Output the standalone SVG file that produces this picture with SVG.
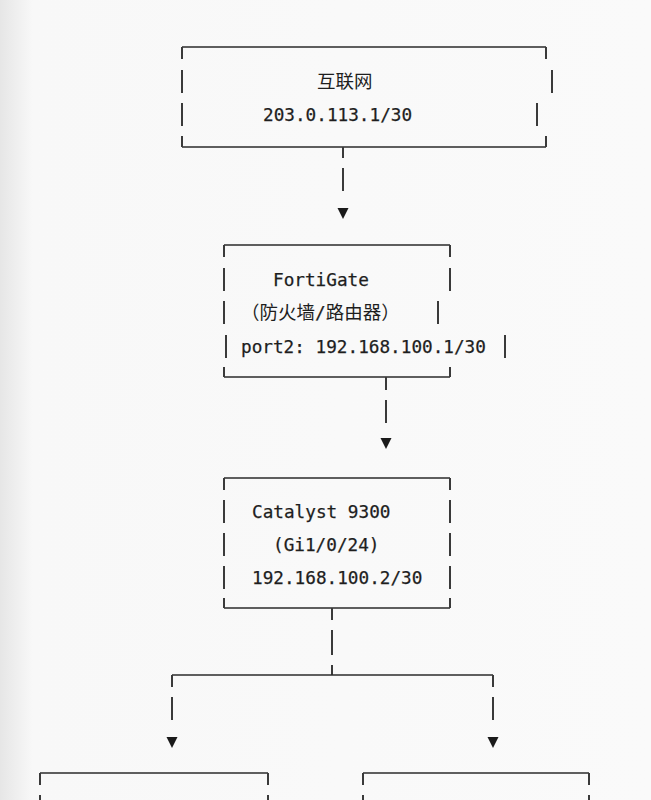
<svg xmlns="http://www.w3.org/2000/svg" width="651" height="800" viewBox="0 0 651 800">
  <defs>
    <linearGradient id="bg" x1="0" y1="0" x2="1" y2="0">
      <stop offset="0" stop-color="#e6e6e6"/>
      <stop offset="0.05" stop-color="#f8f8f8"/>
      <stop offset="1" stop-color="#fafafa"/>
    </linearGradient>
    <path id="tri" d="M-5.5,0 L5.5,0 L0,11 Z"/>
  </defs>
  <style>
    .ln { stroke: #2b2b2b; stroke-width: 1.4; fill: none; }
    .bar { stroke: #3a3a3a; stroke-width: 2; fill: none; }
    .t { font-family: "DejaVu Sans Mono", "Liberation Mono", "Noto Sans CJK SC", monospace; font-size: 17.7px; fill: #1e1e1e; stroke: #1e1e1e; stroke-width: 0.25; }
    .c { font-family: "Noto Sans CJK SC", "DejaVu Sans Mono", sans-serif; font-size: 18.5px; fill: #1e1e1e; }
    .arr { fill: #1a1a1a; }
  </style>
  <rect x="0" y="0" width="651" height="800" fill="url(#bg)"/>

  <g id="internet">
    <path class="ln" d="M182,47 H546 M182,147 H546"/>
    <path class="bar" d="M182,47 V59 M182,70 V93 M182,103 V126 M182,136 V147 M546,47 V59 M552,70 V93 M537,103 V126 M546,136 V147"/>
    <text class="c" x="317" y="88">互联网</text>
    <text class="t" x="263" y="121">203.0.113.1/30</text>
  </g>

  <g id="fortigate">
    <path class="ln" d="M224,245 H450 M224,377 H450"/>
    <path class="bar" d="M224,245 V257 M224,268 V291 M224,301 V324 M226,335 V358 M224,367 V377 M450,245 V257 M450,268 V291 M438,301 V324 M505,335 V358 M450,367 V377"/>
    <text class="t" x="273" y="286">FortiGate</text>
    <text class="c" x="241" y="319">（防火墙<tspan class="t">/</tspan>路由器）</text>
    <text class="t" x="241" y="353">port2: 192.168.100.1/30</text>
  </g>

  <g id="catalyst">
    <path class="ln" d="M224,478 H450 M224,608 H450"/>
    <path class="bar" d="M224,478 V490 M224,500 V523 M224,533 V556 M224,566 V589 M224,598 V608 M450,478 V490 M450,500 V523 M450,533 V556 M450,566 V589 M450,598 V608"/>
    <text class="t" x="252" y="518">Catalyst 9300</text>
    <text class="t" x="273" y="551">(Gi1/0/24)</text>
    <text class="t" x="252" y="584">192.168.100.2/30</text>
  </g>

  <g id="node-left">
    <path class="ln" d="M40,773 H268"/>
    <path class="bar" d="M40,773 V785 M40,795 V800 M268,773 V785 M268,795 V800"/>
  </g>

  <g id="node-right">
    <path class="ln" d="M363,773 H589"/>
    <path class="bar" d="M363,773 V785 M363,795 V800 M589,773 V785 M589,795 V800"/>
  </g>

  <g id="connectors">
    <path class="bar" d="M343,147 V158 M343,168 V191"/>
    <use href="#tri" class="arr" x="343" y="208"/>
    <path class="bar" d="M386,377 V390 M386,400 V423"/>
    <use href="#tri" class="arr" x="386" y="438"/>
    <path class="bar" d="M332,608 V620 M332,630 V655 M332,665 V675"/>
    <path class="ln" d="M172,675 H493"/>
    <path class="bar" d="M172,675 V687 M172,697 V720 M493,675 V687 M493,697 V720"/>
    <use href="#tri" class="arr" x="172" y="737"/>
    <use href="#tri" class="arr" x="493" y="737"/>
  </g>
</svg>
